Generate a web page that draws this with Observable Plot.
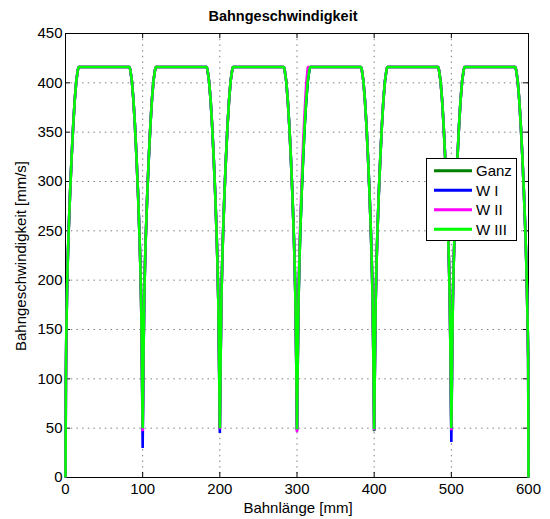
<!DOCTYPE html>
<html><head><meta charset="utf-8">
<script src="https://cdn.jsdelivr.net/npm/d3@7"></script>
<script src="https://cdn.jsdelivr.net/npm/@observablehq/plot@0.6"></script>
<style>body{margin:0;background:#fff;} svg{display:block;}</style>
</head><body><div id="chart"></div>
<script>
const titleText = "Bahngeschwindigkeit";
const xLabel = "Bahnlänge [mm]";
const yLabel = "Bahngeschwindigkeit [mm/s]";
const xTicks = [0, 100, 200, 300, 400, 500, 600];
const yTicks = [0, 50, 100, 150, 200, 250, 300, 350, 400, 450];
const seriesNames = ["Ganz", "W I", "W II", "W III"];
const seriesColors = ["#008000", "#0000ff", "#ff00ff", "#00ff00"];

// Bahnlänge [mm] (shared sample positions)
const bahnX = [
  0, 0.5, 1, 2, 3, 4, 6, 8, 10, 12, 14, 16, 17,
  83, 84, 86, 88, 90, 92, 94, 96, 97, 98, 99, 100, 101, 102, 103, 104, 106, 108, 110, 112, 114, 116, 117,
  183, 184, 186, 188, 190, 192, 194, 196, 197, 198, 199, 200, 201, 202, 203, 204, 206, 208, 210, 212, 214, 216, 217,
  283, 284, 286, 288, 290, 292, 294, 296, 297, 298, 299, 300, 301, 302, 303, 304, 306, 308, 310, 312, 314, 316, 317,
  383, 384, 386, 388, 390, 392, 394, 396, 397, 398, 399, 400, 401, 402, 403, 404, 406, 408, 410, 412, 414, 416, 417,
  483, 484, 486, 488, 490, 492, 494, 496, 497, 498, 499, 500, 501, 502, 503, 504, 506, 508, 510, 512, 514, 516, 517,
  583, 584, 586, 588, 590, 592, 594, 596, 597, 598, 599, 599.6, 600
];

// Bahngeschwindigkeit [mm/s]
const ganzV = [
  0, 100, 140, 190, 222, 248, 290, 326, 357, 383, 402, 413, 416,
  416, 413, 402, 383, 357, 325, 288, 243, 215, 180, 120, 49, 120, 180, 215, 243, 288, 325, 357, 383, 402, 413, 416,
  416, 413, 402, 383, 357, 325, 288, 243, 215, 180, 120, 49, 120, 180, 215, 243, 288, 325, 357, 383, 402, 413, 416,
  416, 413, 402, 383, 357, 325, 288, 243, 215, 180, 120, 48, 120, 180, 215, 243, 288, 325, 357, 383, 402, 413, 416,
  416, 413, 402, 383, 357, 325, 288, 243, 215, 180, 120, 47, 120, 180, 215, 243, 288, 325, 357, 383, 402, 413, 416,
  416, 413, 402, 383, 357, 325, 288, 243, 215, 180, 120, 49, 120, 180, 215, 243, 288, 325, 357, 383, 402, 413, 416,
  416, 413, 402, 383, 357, 326, 290, 248, 222, 190, 150, 120, 0
];
const w1V = [
  0, 100, 140, 190, 222, 248, 290, 326, 357, 383, 402, 413, 416,
  416, 413, 402, 383, 357, 325, 288, 243, 215, 180, 115, 30, 115, 180, 215, 243, 288, 325, 357, 383, 402, 413, 416,
  416, 413, 402, 383, 357, 325, 288, 243, 215, 180, 118, 45, 118, 180, 215, 243, 288, 325, 357, 383, 402, 413, 416,
  416, 413, 402, 383, 357, 325, 288, 243, 215, 180, 120, 48, 120, 180, 215, 243, 288, 325, 357, 383, 402, 413, 416,
  416, 413, 402, 383, 357, 325, 288, 243, 215, 180, 120, 48, 120, 180, 215, 243, 288, 325, 357, 383, 402, 413, 416,
  416, 413, 402, 383, 357, 325, 288, 243, 215, 180, 116, 36, 116, 180, 215, 243, 288, 325, 357, 383, 402, 413, 416,
  416, 413, 402, 383, 357, 326, 290, 248, 222, 190, 150, 120, 0
];
const w2V = [
  0, 100, 140, 190, 222, 248, 290, 326, 357, 383, 402, 413, 416,
  416, 413, 402, 383, 357, 325, 288, 243, 215, 180, 120, 47, 120, 180, 215, 243, 288, 325, 357, 383, 402, 413, 416,
  416, 413, 402, 383, 357, 325, 288, 243, 215, 180, 120, 49, 120, 180, 215, 243, 288, 325, 357, 383, 402, 413, 416,
  416, 413, 402, 383, 357, 325, 288, 243, 215, 180, 120, 46, 120, 185, 222, 252, 300, 340, 372, 400, 416, 416, 416,
  416, 413, 402, 383, 357, 325, 288, 243, 215, 180, 120, 48, 120, 180, 215, 243, 288, 325, 357, 383, 402, 413, 416,
  416, 413, 402, 383, 357, 325, 288, 243, 215, 180, 120, 48, 120, 180, 215, 243, 288, 325, 357, 383, 402, 413, 416,
  416, 413, 402, 383, 357, 326, 290, 248, 222, 190, 150, 120, 0
];
const w3V = [
  0, 100, 140, 190, 222, 248, 290, 326, 357, 383, 402, 413, 416,
  416, 413, 402, 383, 357, 325, 288, 243, 215, 180, 120, 50, 120, 180, 215, 243, 288, 325, 357, 383, 402, 413, 416,
  416, 413, 402, 383, 357, 325, 288, 243, 215, 180, 120, 50, 120, 180, 215, 243, 288, 325, 357, 383, 402, 413, 416,
  416, 413, 402, 383, 357, 325, 288, 243, 215, 180, 120, 49, 120, 180, 215, 243, 288, 325, 357, 383, 402, 413, 416,
  416, 413, 402, 383, 357, 325, 288, 243, 215, 180, 120, 49, 120, 180, 215, 243, 288, 325, 357, 383, 402, 413, 416,
  416, 413, 402, 383, 357, 325, 288, 243, 215, 180, 120, 50, 120, 180, 215, 243, 288, 325, 357, 383, 402, 413, 416,
  416, 413, 402, 383, 357, 326, 290, 248, 222, 190, 150, 120, 0
];

const seriesValues = [ganzV, w1V, w2V, w3V];
const rows = [];
seriesNames.forEach((name, i) => {
  seriesValues[i].forEach((v, j) => rows.push({series: name, x: bahnX[j], v}));
});

const W = 550, H = 519;
const mL = 65, mR = 22, mT = 33, mB = 42;
const plotW = W - mL - mR, plotH = H - mT - mB;
const FONT = "'Liberation Sans', Arial, Helvetica, sans-serif";
const tickLen = 5;

const chart = Plot.plot({
  width: W, height: H,
  marginLeft: mL, marginRight: mR, marginTop: mT, marginBottom: mB,
  style: {fontFamily: FONT, fontSize: "15px", color: "#000", background: "#fff"},
  x: {domain: [0, 600]},
  y: {domain: [0, 450]},
  color: {domain: seriesNames, range: seriesColors},
  marks: [
    Plot.gridX(xTicks, {stroke: "#000", strokeOpacity: 0.5, strokeDasharray: "1.5,4.2"}),
    Plot.gridY(yTicks, {stroke: "#000", strokeOpacity: 0.5, strokeDasharray: "1.5,4.2"}),
    Plot.tickX(xTicks, {x: d => d, insetTop: plotH - tickLen, stroke: "#000"}),
    Plot.tickX(xTicks, {x: d => d, insetBottom: plotH - tickLen, stroke: "#000"}),
    Plot.tickY(yTicks, {y: d => d, insetRight: plotW - tickLen, stroke: "#000"}),
    Plot.tickY(yTicks, {y: d => d, insetLeft: plotW - tickLen, stroke: "#000"}),
    Plot.frame({stroke: "#000", strokeWidth: 1}),
    Plot.line(rows, {x: "x", y: "v", z: "series", stroke: "series", strokeWidth: 2.6,
      strokeLinejoin: "miter", strokeLinecap: "butt"}),
    Plot.axisX({ticks: xTicks, tickSize: 0, tickPadding: 6, fontSize: 15, label: null, tickFormat: d => String(d)}),
    Plot.axisY({ticks: yTicks, tickSize: 0, tickPadding: 3, fontSize: 15, label: null, tickFormat: d => String(d)})
  ]
});

const svg = d3.select(chart);
svg.append("text").attr("x", 283).attr("y", 21).attr("text-anchor", "middle")
  .attr("font-family", FONT).attr("font-size", 14.5).attr("font-weight", "bold").attr("fill", "#000")
  .text(titleText);
svg.append("text").attr("x", 298).attr("y", 513).attr("text-anchor", "middle")
  .attr("font-family", FONT).attr("font-size", 15).attr("fill", "#000").text(xLabel);
svg.append("text").attr("transform", "translate(26,256) rotate(-90)").attr("text-anchor", "middle")
  .attr("font-family", FONT).attr("font-size", 15).attr("fill", "#000").text(yLabel);

// legend
const lg = svg.append("g");
lg.append("rect").attr("x", 426.5).attr("y", 158.5).attr("width", 90).attr("height", 82)
  .attr("fill", "#fff").attr("stroke", "#000").attr("stroke-width", 1);
const rowY = [170.7, 190.2, 209.8, 229.3];
seriesNames.forEach((name, i) => {
  lg.append("line").attr("x1", 434).attr("x2", 472).attr("y1", rowY[i]).attr("y2", rowY[i])
    .attr("stroke", seriesColors[i]).attr("stroke-width", 3);
  lg.append("text").attr("x", 476).attr("y", rowY[i] + 5.5).attr("text-anchor", "start")
    .attr("font-family", FONT).attr("font-size", 15).attr("fill", "#000").text(name);
});

document.getElementById("chart").appendChild(chart);
</script>
</body></html>
